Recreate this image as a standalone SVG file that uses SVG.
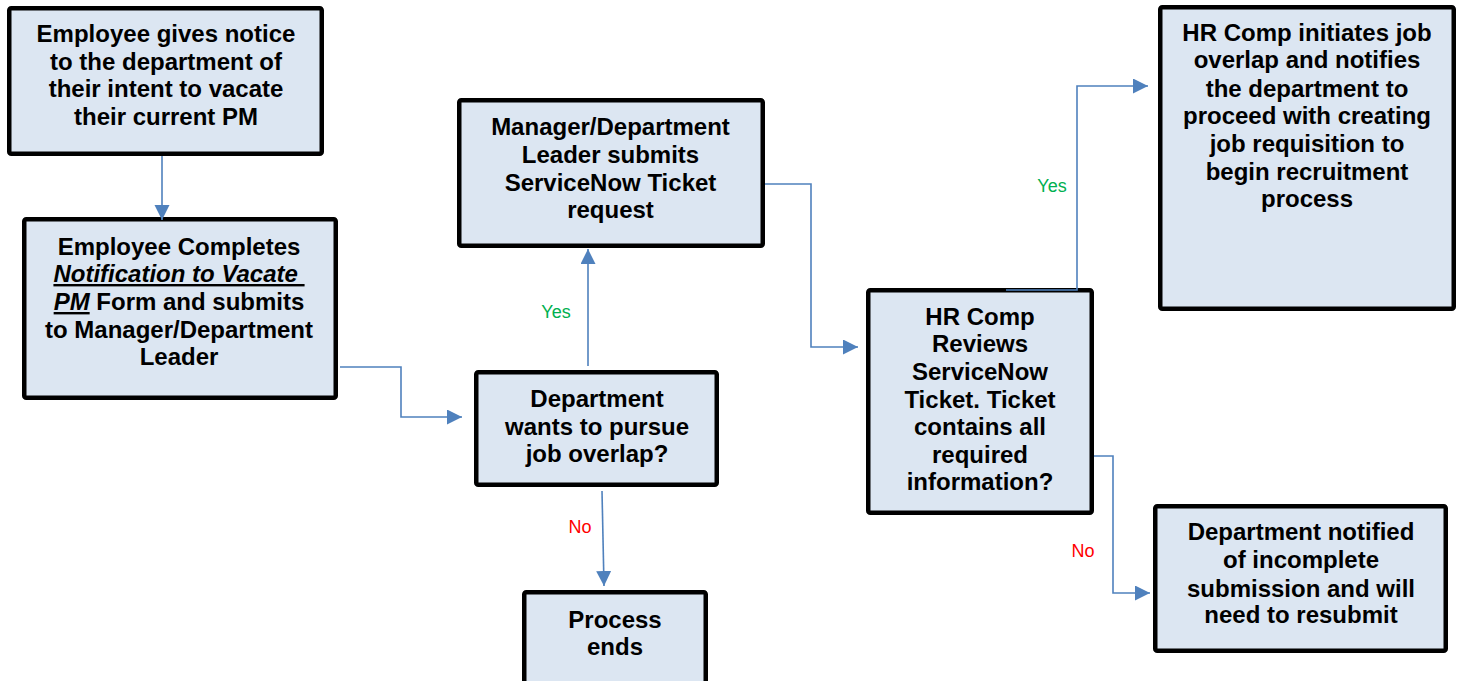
<svg xmlns="http://www.w3.org/2000/svg" width="1457" height="681" viewBox="0 0 1457 681">
  <style>
    .box { fill: #dce6f2; stroke: #000; stroke-width: 4.5; }
    .t { font-family: "Liberation Sans", Arial, sans-serif; font-size: 24px; font-weight: bold; fill: #000; text-anchor: middle; }
    .em { font-style: italic; text-decoration: underline; }
    .conn { fill: none; stroke: #4f81bd; stroke-width: 1.6; marker-end: url(#arrow); }
    .yes { font-family: "Liberation Sans", Arial, sans-serif; font-size: 18px; fill: #00b050; text-anchor: middle; }
    .no { font-family: "Liberation Sans", Arial, sans-serif; font-size: 18px; fill: #ff0000; text-anchor: middle; }
  </style>
  <defs>
    <marker id="arrow" markerUnits="userSpaceOnUse" markerWidth="16" markerHeight="16" refX="15" refY="7.5" orient="auto">
      <path d="M0,0 L15,7.5 L0,15 z" fill="#4f81bd"/>
    </marker>
  </defs>
  <rect width="1457" height="681" fill="#fff"/>

  <g id="notice">
    <rect class="box" x="9.25" y="8.25" width="312.5" height="145.5" rx="2"/>
    <text class="t" x="166"><tspan x="166" y="42">Employee gives notice</tspan><tspan x="166" y="70">to the department of</tspan><tspan x="166" y="97">their intent to vacate</tspan><tspan x="166" y="125">their current PM</tspan></text>
  </g>

  <g id="form">
    <rect class="box" x="24.25" y="219.25" width="311.5" height="178.5" rx="2"/>
    <text class="t" x="179"><tspan x="179" y="255">Employee Completes</tspan><tspan x="179" y="282" class="em">Notification to Vacate&#160;</tspan><tspan x="179" y="310"><tspan class="em">PM</tspan> Form and submits</tspan><tspan x="179" y="338">to Manager/Department</tspan><tspan x="179" y="365">Leader</tspan></text>
  </g>

  <g id="decision-overlap">
    <rect class="box" x="476.25" y="372.25" width="240.5" height="112.5" rx="2"/>
    <text class="t" x="597"><tspan x="597" y="407">Department</tspan><tspan x="597" y="435">wants to pursue</tspan><tspan x="597" y="462">job overlap?</tspan></text>
  </g>

  <g id="process-ends">
    <rect class="box" x="524.25" y="592.25" width="181.5" height="110" rx="2"/>
    <text class="t" x="615"><tspan x="615" y="628">Process</tspan><tspan x="615" y="655">ends</tspan></text>
  </g>

  <g id="ticket-request">
    <rect class="box" x="459.25" y="100.25" width="303.5" height="145.5" rx="2"/>
    <text class="t" x="610.5"><tspan x="610.5" y="135">Manager/Department</tspan><tspan x="610.5" y="163">Leader submits</tspan><tspan x="610.5" y="191">ServiceNow Ticket</tspan><tspan x="610.5" y="218">request</tspan></text>
  </g>

  <g id="ticket-review">
    <rect class="box" x="868.25" y="290.25" width="223.5" height="222.5" rx="2"/>
    <text class="t" x="980"><tspan x="980" y="325">HR Comp</tspan><tspan x="980" y="352">Reviews</tspan><tspan x="980" y="380">ServiceNow</tspan><tspan x="980" y="408">Ticket. Ticket</tspan><tspan x="980" y="435">contains all</tspan><tspan x="980" y="463">required</tspan><tspan x="980" y="490">information?</tspan></text>
  </g>

  <g id="initiate-overlap">
    <rect class="box" x="1160.25" y="7.25" width="293.5" height="301.5" rx="2"/>
    <text class="t" x="1307"><tspan x="1307" y="41">HR Comp initiates job</tspan><tspan x="1307" y="68">overlap and notifies</tspan><tspan x="1307" y="97">the department to</tspan><tspan x="1307" y="124">proceed with creating</tspan><tspan x="1307" y="152">job requisition to</tspan><tspan x="1307" y="180">begin recruitment</tspan><tspan x="1307" y="207">process</tspan></text>
  </g>

  <g id="resubmit">
    <rect class="box" x="1155.25" y="506.25" width="290.5" height="144.5" rx="2"/>
    <text class="t" x="1301"><tspan x="1301" y="540">Department notified</tspan><tspan x="1301" y="568">of incomplete</tspan><tspan x="1301" y="597">submission and will</tspan><tspan x="1301" y="623">need to resubmit</tspan></text>
  </g>

  <!-- connectors, drawn over the box outlines -->
  <g id="connectors">
    <path class="conn" d="M162,156 L162,220"/>
    <path class="conn" d="M340,367 H401 V417 H462"/>
    <path class="conn" d="M588,366 V249"/>
    <path class="conn" d="M602,491 L604,586"/>
    <path class="conn" d="M765,184 H811 V347 H858"/>
    <path class="conn" d="M1006,290 H1077 V86 H1148"/>
    <path class="conn" d="M1094,456 H1113 V593 H1150"/>
    <text class="yes" x="556" y="318">Yes</text>
    <text class="no" x="580" y="533">No</text>
    <text class="yes" x="1052" y="192">Yes</text>
    <text class="no" x="1083" y="557">No</text>
  </g>
</svg>
